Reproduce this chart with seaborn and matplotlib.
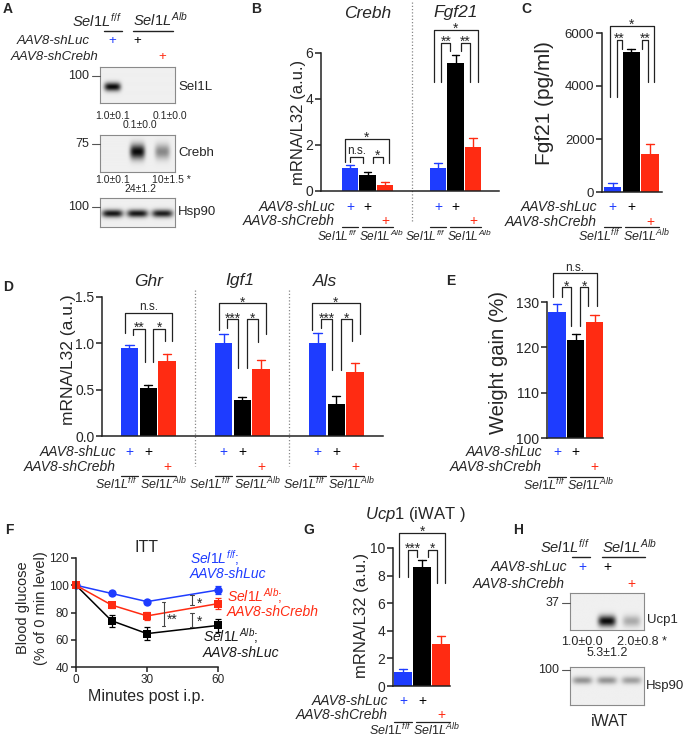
import numpy as np
import pandas as pd
import matplotlib
matplotlib.use("Agg")
import matplotlib.pyplot as plt
import seaborn as sns
from matplotlib.lines import Line2D
from matplotlib.transforms import blended_transform_factory

# ------------------------------------------------------------------ data
conditions = ["ff_shLuc", "Alb_shLuc", "Alb_shCrebh"]
cond_colors = ["#1e3cff", "#000000", "#ff2b12"]

b_genes = ["Crebh", "Fgf21"]
b_crebh_mean = [1.0, 0.68, 0.28]
b_crebh_sem = [0.13, 0.15, 0.10]
b_fgf21_mean = [1.0, 5.55, 1.9]
b_fgf21_sem = [0.2, 0.35, 0.4]

c_fgf21_mean = [180, 5280, 1450]
c_fgf21_sem = [150, 100, 370]

d_genes = ["Ghr", "Igf1", "Als"]
d_ghr_mean = [0.95, 0.52, 0.81]
d_ghr_sem = [0.03, 0.03, 0.07]
d_igf1_mean = [1.0, 0.39, 0.72]
d_igf1_sem = [0.10, 0.03, 0.10]
d_als_mean = [1.0, 0.34, 0.69]
d_als_sem = [0.11, 0.09, 0.10]

e_weight_mean = [127.8, 121.6, 125.5]
e_weight_sem = [1.8, 1.3, 1.7]

f_minutes = [0, 15, 30, 60]
f_ff_shluc = [100, 94, 88, 96.5]
f_ff_shluc_err = [0, 1.5, 1.5, 3.0]
f_alb_shcrebh = [100, 85.5, 77.5, 86.5]
f_alb_shcrebh_err = [0, 2.0, 3.0, 4.0]
f_alb_shluc = [100, 74, 64.5, 70.5]
f_alb_shluc_err = [0, 4.5, 5.0, 5.0]

g_ucp1_mean = [1.0, 8.6, 3.05]
g_ucp1_sem = [0.22, 0.5, 0.6]

a_sel1l_band = [1.0, 0.0, 0.0]
a_crebh_band = [0.0, 1.0, 0.45]
a_hsp90_band = [0.95, 0.95, 0.92]
a_sel1l_quant = ["1.0±0.1", "0.1±0.0", "0.1±0.0"]
a_crebh_quant = ["1.0±0.1", "24±1.2", "10±1.5 *"]
h_ucp1_band = [0.0, 1.0, 0.3]
h_hsp90_band = [0.4, 0.4, 0.35]
h_ucp1_quant = ["1.0±0.0", "5.3±1.2", "2.0±0.8 *"]

# ------------------------------------------------------------------ style
sns.set_theme(style="ticks")
plt.rcParams["font.family"] = ["Liberation Sans", "DejaVu Sans"]
plt.rcParams["mathtext.fontset"] = "custom"
plt.rcParams["mathtext.rm"] = "Liberation Sans"
plt.rcParams["mathtext.it"] = "Liberation Sans:italic"
plt.rcParams["mathtext.bf"] = "Liberation Sans:bold"

SEL_FF = r"$\mathit{Sel1L}^{\mathit{f/f}}$"
SEL_ALB = r"$\mathit{Sel1L}^{\mathit{Alb}}$"

W, H = 689, 738
fig = plt.figure(figsize=(W / 100, H / 100), dpi=100)
BW = 0.93
INK = "#222222"


def fx(x):
    return x / W


def fy(y):
    return 1 - y / H


def axes_px(x0, y0, x1, y1):
    return fig.add_axes([fx(x0), fy(y1), (x1 - x0) / W, (y1 - y0) / H])


def txt(x, y, s, fs=9, ha="center", va="center", **kw):
    return fig.text(fx(x), fy(y), s, fontsize=fs, ha=ha, va=va, **kw)


def fline(x0, x1, y0, y1=None, color=INK, lw=1.0, **kw):
    if y1 is None:
        y1 = y0
    fig.add_artist(Line2D([fx(x0), fx(x1)], [fy(y0), fy(y1)], color=color, lw=lw, **kw))


def bt(ax):
    return blended_transform_factory(ax.transData, fig.transFigure)


def draw_bars(ax, means_list, sems_list, gap):
    rows = []
    for gi, (ms, ss) in enumerate(zip(means_list, sems_list)):
        for ci in range(3):
            rows.append({"pos": gi * gap + ci, "val": ms[ci], "err": ss[ci],
                         "cond": conditions[ci]})
    df = pd.DataFrame(rows)
    sns.barplot(data=df, x="pos", y="val", hue="cond", hue_order=conditions,
                palette=cond_colors, native_scale=True, dodge=False, width=BW,
                saturation=1, errorbar=None, legend=False, linewidth=0, ax=ax)
    for r in df.itertuples():
        c = cond_colors[conditions.index(r.cond)]
        top = r.val + r.err
        ax.plot([r.pos, r.pos], [r.val, top], color=c, lw=1.0, clip_on=False, zorder=3)
        ax.plot([r.pos - 0.22, r.pos + 0.22], [top, top], color=c, lw=1.0,
                clip_on=False, zorder=3)
    return df


def style_axes(ax, xlim, ylim, yticks, ylabels, fs):
    ax.set_xlim(*xlim)
    ax.set_ylim(*ylim)
    ax.set_yticks(yticks)
    ax.set_yticklabels(ylabels)
    ax.set_xticks([])
    ax.set_xlabel("")
    ax.set_ylabel("")
    sns.despine(ax=ax)
    for s in ("left", "bottom"):
        ax.spines[s].set_linewidth(1.1)
        ax.spines[s].set_color(INK)
    ax.tick_params(axis="y", length=4, width=1.1, pad=1.5, labelsize=fs, color=INK)


def bracket(ax, x1, x2, ytop, yb1, yb2, label, fs=10):
    ax.plot([x1, x1, x2, x2], [yb1, ytop, ytop, yb2], color=INK, lw=0.9,
            clip_on=False, zorder=4)
    if label == "n.s.":
        ax.annotate(label, ((x1 + x2) / 2, ytop), xytext=(0, 2), textcoords="offset points",
                    ha="center", va="baseline", fontsize=fs - 1.5, annotation_clip=False)
    else:
        ax.annotate(label, ((x1 + x2) / 2, ytop), xytext=(0, -2.2), textcoords="offset points",
                    ha="center", va="baseline", fontsize=fs, annotation_clip=False)


def cond_rows(ax, bases, y_luc, y_crebh, y_sel, y_over, names_right=None,
              fs_plus=10, fs_name=10, fs_sel=9):
    tr = bt(ax)
    for b in bases:
        ax.text(b, fy(y_luc), "+", color=cond_colors[0], transform=tr, ha="center",
                va="center", fontsize=fs_plus)
        ax.text(b + 1, fy(y_luc), "+", color=cond_colors[1], transform=tr, ha="center",
                va="center", fontsize=fs_plus)
        ax.text(b + 2, fy(y_crebh), "+", color=cond_colors[2], transform=tr, ha="center",
                va="center", fontsize=fs_plus)
        ax.text(b + BW / 2, fy(y_sel), SEL_FF, transform=tr, ha="right", va="center",
                fontsize=fs_sel)
        ax.plot([b - BW / 2, b + BW / 2], [fy(y_over)] * 2, transform=tr, color=INK,
                lw=0.9, clip_on=False)
        ax.text(b + 1 - BW / 2, fy(y_sel), SEL_ALB, transform=tr, ha="left", va="center",
                fontsize=fs_sel)
        ax.plot([b + 1 - BW / 2 + 0.15, b + 2 + BW / 2], [fy(y_over)] * 2, transform=tr,
                color=INK, lw=0.9, clip_on=False)
    if names_right is not None:
        txt(names_right, y_luc, "AAV8-shLuc", fs=fs_name, ha="right", style="italic")
        txt(names_right, y_crebh, "AAV8-shCrebh", fs=fs_name, ha="right", style="italic")


def blot(box, bands, yfrac, wx, wy, bg=0.94):
    ax = axes_px(*box)
    n = len(bands)
    xs = np.linspace(-0.5, n - 0.5, 300)
    ys = np.linspace(0, 1, 160)
    X, Y = np.meshgrid(xs, ys)
    img = np.full(X.shape, bg)
    for i, a in enumerate(bands):
        img = img - a * (bg - 0.04) * np.exp(-np.abs((X - i) / wx) ** 4 - ((Y - yfrac) / wy) ** 2)
    ax.imshow(img, cmap="gray", vmin=0, vmax=1, extent=(-0.5, n - 0.5, 1, 0),
              aspect="auto", interpolation="bilinear")
    ax.set_xlim(-0.5, n - 0.5)
    ax.set_xticks([])
    ax.set_yticks([])
    ax.grid(False)
    for s in ax.spines.values():
        s.set_color("#8a8a8a")
        s.set_linewidth(0.8)
    return ax


def marker(xr, y, s, fs=9):
    txt(xr - 11, y, s, fs=fs, ha="right")
    fline(xr - 8, xr, y, color="#555", lw=0.8)


# ================================================================== A
txt(8, 9, "A", fs=10, weight="bold")
axA1 = blot((100, 67, 175, 103), a_sel1l_band, 0.55, 0.33, 0.12)
axA2 = blot((100, 135, 175, 172), a_crebh_band, 0.45, 0.30, 0.20)
axA3 = blot((100, 198, 175, 227), a_hsp90_band, 0.55, 0.42, 0.13)
trA = bt(axA1)
txt(122, 21, SEL_FF, fs=10.5, ha="right")
fline(104, 122, 31)
txt(133, 20, SEL_ALB, fs=10.5, ha="left")
fline(133, 173, 31)
txt(90, 41, "AAV8-shLuc", fs=9.5, ha="right", style="italic")
txt(98, 57, "AAV8-shCrebh", fs=9.5, ha="right", style="italic")
axA1.text(0, fy(41), "+", color=cond_colors[0], transform=trA, ha="center", va="center", fontsize=9.5)
axA1.text(1, fy(41), "+", color=cond_colors[1], transform=trA, ha="center", va="center", fontsize=9.5)
axA1.text(2, fy(57), "+", color=cond_colors[2], transform=trA, ha="center", va="center", fontsize=9.5)
marker(100, 76, "100")
marker(100, 144, "75")
marker(100, 207, "100")
txt(178, 87, "Sel1L", fs=9.5, ha="left")
txt(178, 153, "Crebh", fs=9.5, ha="left")
txt(178, 212, "Hsp90", fs=9.5, ha="left")
for axb, q, yr1, yr2 in ((axA1, a_sel1l_quant, 116, 125), (axA2, a_crebh_quant, 180, 189)):
    tr = bt(axb)
    axb.text(0, fy(yr1), q[0], transform=tr, ha="center", va="center", fontsize=7.5)
    axb.text(1.1, fy(yr2), q[1], transform=tr, ha="center", va="center", fontsize=7.5)
    axb.text(2 - 0.4, fy(yr1), q[2], transform=tr, ha="left", va="center", fontsize=7.5)

# ================================================================== B
txt(256, 9, "B", fs=10, weight="bold")
axB = axes_px(321, 53, 499, 191)
draw_bars(axB, [b_crebh_mean, b_fgf21_mean], [b_crebh_sem, b_fgf21_sem], gap=5)
style_axes(axB, (-1.65, 8.47), (0, 6), [0, 2, 4, 6], ["0", "2", "4", "6"], 10)
trB = bt(axB)
for gi, g in enumerate(b_genes):
    axB.text(gi * 5 + 1, fy(13), g, transform=trB, ha="center", va="center",
             fontsize=12.5, style="italic")
axB.plot([3.5, 3.5], [fy(2), fy(222)], transform=trB, color="#888", lw=0.9,
         ls=(0, (1, 1.6)), clip_on=False)
bracket(axB, -0.3, 2.2, 2.26, 1.25, 1.2, "*")
bracket(axB, 0.0, 0.75, 1.48, 1.25, 1.2, "n.s.")
bracket(axB, 1.3, 1.87, 1.48, 1.2, 1.2, "*")
bracket(axB, 4.75, 7.25, 7.0, 4.74, 4.74, "*")
bracket(axB, 5.2, 5.7, 6.45, 4.74, 6.1, "**")
bracket(axB, 6.3, 6.8, 6.45, 6.1, 4.74, "**")
txt(298, 122, "mRNA/L32 (a.u.)", fs=12, rotation=90)
cond_rows(axB, [0, 5], 207, 221, 236, 227, names_right=335, fs_sel=8.6)

# ================================================================== C
txt(526, 9, "C", fs=10, weight="bold")
axC = axes_px(602, 33, 662, 192)
draw_bars(axC, [c_fgf21_mean], [c_fgf21_sem], gap=5)
style_axes(axC, (-0.56, 2.64), (0, 6000), [0, 2000, 4000, 6000],
           ["0", "2000", "4000", "6000"], 9.5)
bracket(axC, -0.13, 2.2, 6260, 3600, 4150, "*")
bracket(axC, 0.24, 0.5, 5740, 3600, 5400, "**")
bracket(axC, 1.57, 1.9, 5740, 5400, 4150, "**")
txt(545, 103, "Fgf21 (pg/ml)", fs=15, rotation=90)
cond_rows(axC, [0], 207, 222, 236, 227, names_right=597)

# ================================================================== D
txt(8, 287, "D", fs=10, weight="bold")
axD = axes_px(102, 297, 383, 436)
draw_bars(axD, [d_ghr_mean, d_igf1_mean, d_als_mean],
          [d_ghr_sem, d_igf1_sem, d_als_sem], gap=5)
style_axes(axD, (-1.46, 13.48), (0, 1.5), [0, 0.5, 1.0, 1.5],
           ["0.0", "0.5", "1.0", "1.5"], 10)
trD = bt(axD)
for xp in (3.5, 8.5):
    axD.plot([xp, xp], [fy(290), fy(466)], transform=trD, color="#888", lw=0.9,
             ls=(0, (1, 1.6)), clip_on=False)
for g, xp in zip(d_genes, (149, 240, 325)):
    txt(xp, 281, g, fs=12.5, style="italic")
bracket(axD, -0.25, 2.25, 1.33, 1.11, 1.03, "n.s.")
bracket(axD, 0.2, 0.83, 1.16, 1.09, 0.80, "**")
bracket(axD, 1.26, 1.89, 1.16, 0.80, 1.03, "*")
bracket(axD, 4.76, 7.26, 1.43, 1.14, 1.10, "*")
bracket(axD, 5.19, 5.77, 1.26, 1.17, 0.73, "***")
bracket(axD, 6.25, 6.83, 1.26, 0.73, 1.01, "*")
bracket(axD, 9.7, 12.26, 1.43, 1.14, 1.10, "*")
bracket(axD, 10.18, 10.77, 1.26, 1.17, 0.71, "***")
bracket(axD, 11.25, 11.83, 1.26, 0.71, 1.03, "*")
txt(68, 360, "mRNA/L32 (a.u.)", fs=12.5, rotation=90)
cond_rows(axD, [0, 5, 10], 452, 467, 484, 476, names_right=116)

# ================================================================== E
txt(451, 281, "E", fs=10, weight="bold")
axE = axes_px(547, 302, 603, 438)
draw_bars(axE, [e_weight_mean], [e_weight_sem], gap=5)
style_axes(axE, (-0.53, 2.45), (100, 130), [100, 110, 120, 130],
           ["100", "110", "120", "130"], 10)
bracket(axE, -0.2, 2.13, 136.3, 131.0, 129.2, "n.s.")
bracket(axE, 0.27, 0.75, 133.2, 131.0, 124.8, "*")
bracket(axE, 1.23, 1.65, 133.2, 124.8, 129.2, "*")
txt(498, 362, "Weight gain (%)", fs=14.5, rotation=90)
cond_rows(axE, [0], 452, 467, 485, 477, names_right=542)

# ================================================================== F
txt(9, 530, "F", fs=10, weight="bold")
axF = axes_px(76, 558, 218, 667)
f_series = [("Sel1LAlb;shLuc", f_alb_shluc, f_alb_shluc_err, cond_colors[1], "s"),
            ("Sel1Lff;shLuc", f_ff_shluc, f_ff_shluc_err, cond_colors[0], "o"),
            ("Sel1LAlb;shCrebh", f_alb_shcrebh, f_alb_shcrebh_err, cond_colors[2], "s")]
rowsF = []
for name, vals, errs, c, m in f_series:
    for t, v, e in zip(f_minutes, vals, errs):
        rowsF.append({"min": t, "val": v, "err": e, "grp": name})
dfF = pd.DataFrame(rowsF)
sns.lineplot(data=dfF, x="min", y="val", hue="grp",
             hue_order=[s[0] for s in f_series],
             palette={s[0]: s[3] for s in f_series},
             style="grp", markers={s[0]: s[4] for s in f_series}, dashes=False,
             markersize=6, markeredgewidth=0, lw=1.1, legend=False, errorbar=None, ax=axF)
for name, vals, errs, c, m in f_series:
    for t, v, e in zip(f_minutes, vals, errs):
        if e > 0:
            axF.errorbar([t], [v], yerr=[e], fmt="none", ecolor=c, elinewidth=0.9,
                         capsize=2, capthick=0.9, clip_on=False)
for l in axF.lines:
    l.set_clip_on(False)
axF.set_xlim(0, 60)
axF.set_ylim(40, 120)
axF.set_xticks([0, 30, 60])
axF.set_yticks([40, 60, 80, 100, 120])
axF.set_xlabel("")
axF.set_ylabel("")
sns.despine(ax=axF)
for s in ("left", "bottom"):
    axF.spines[s].set_linewidth(1.1)
    axF.spines[s].set_color(INK)
axF.tick_params(length=3.5, width=1.1, pad=1.5, labelsize=8.5, color=INK)
# significance marks
for xm, y1, y2 in ((49, 92.6, 85.2), (37, 87.4, 70.4), (49, 80, 69)):
    axF.plot([xm, xm], [y1, y2], color="#444", lw=0.8)
    axF.plot([xm - 0.8, xm + 0.8], [y1, y1], color="#444", lw=0.8)
    axF.plot([xm - 0.8, xm + 0.8], [y2, y2], color="#444", lw=0.8)
axF.text(52, 86.5, "*", ha="center", va="center", fontsize=10)
axF.text(40.8, 74.5, "**", ha="center", va="center", fontsize=10)
axF.text(52, 73.5, "*", ha="center", va="center", fontsize=10)
txt(146, 547, "ITT", fs=11.5)
txt(190, 558, r"$\mathit{Sel1L}^{\mathit{f/f}}\mathit{;}$", fs=10, ha="left", color=cond_colors[0])
txt(190, 574, "AAV8-shLuc", fs=10, ha="left", style="italic", color=cond_colors[0])
txt(227, 596, r"$\mathit{Sel1L}^{\mathit{Alb}}\mathit{;}$", fs=10, ha="left", color=cond_colors[2])
txt(227, 612, "AAV8-shCrebh", fs=10, ha="left", style="italic", color=cond_colors[2])
txt(203, 636, r"$\mathit{Sel1L}^{\mathit{Alb}}\mathit{;}$", fs=10, ha="left", color="k")
txt(203, 653, "AAV8-shLuc", fs=10, ha="left", style="italic", color="k")
txt(23, 608, "Blood glucose", fs=10.5, rotation=90)
txt(41, 608, "(% of 0 min level)", fs=10.5, rotation=90)
txt(146, 697, "Minutes post i.p.", fs=11.5)

# ================================================================== G
txt(309, 530, "G", fs=10, weight="bold")
axG = axes_px(393, 548, 450, 686)
draw_bars(axG, [g_ucp1_mean], [g_ucp1_sem], gap=5)
style_axes(axG, (-0.53, 2.47), (0, 10), [0, 2, 4, 6, 8, 10],
           ["0", "2", "4", "6", "8", "10"], 10)
bracket(axG, -0.2, 2.2, 11.09, 7.9, 7.46, "*")
bracket(axG, 0.26, 0.74, 9.86, 7.9, 9.35, "***")
bracket(axG, 1.32, 1.79, 9.86, 9.35, 7.46, "*")
txt(415, 515, r"$\mathit{Ucp1}$ (iWAT )", fs=12)
txt(362, 615, "mRNA/L32 (a.u.)", fs=12, rotation=90)
cond_rows(axG, [0], 701, 715, 730, 722, names_right=388)

# ================================================================== H
txt(518, 530, "H", fs=10, weight="bold")
axH1 = blot((570, 593, 644, 630), h_ucp1_band, 0.76, 0.36, 0.15)
axH2 = blot((570, 667, 644, 705), h_hsp90_band, 0.35, 0.40, 0.10)
trH = bt(axH1)
txt(590, 547, SEL_FF, fs=10.5, ha="right")
fline(572, 590, 557)
txt(602, 547, SEL_ALB, fs=10.5, ha="left")
fline(602, 645, 557)
txt(567, 567, "AAV8-shLuc", fs=10, ha="right", style="italic")
txt(565, 584, "AAV8-shCrebh", fs=10, ha="right", style="italic")
axH1.text(0, fy(567), "+", color=cond_colors[0], transform=trH, ha="center", va="center", fontsize=10)
axH1.text(1, fy(567), "+", color=cond_colors[1], transform=trH, ha="center", va="center", fontsize=10)
axH1.text(2, fy(584), "+", color=cond_colors[2], transform=trH, ha="center", va="center", fontsize=10)
marker(570, 603, "37", fs=9)
marker(570, 670, "100", fs=9)
txt(647, 620, "Ucp1", fs=9.5, ha="left")
txt(646, 686, "Hsp90", fs=9.5, ha="left")
axH1.text(0, fy(642), h_ucp1_quant[0], transform=trH, ha="center", va="center", fontsize=9)
axH1.text(1, fy(653), h_ucp1_quant[1], transform=trH, ha="center", va="center", fontsize=9)
axH1.text(2 - 0.6, fy(642), h_ucp1_quant[2], transform=trH, ha="left", va="center", fontsize=9)
txt(610, 722, "iWAT", fs=11.5)

fig.savefig("out.png", dpi=100)
